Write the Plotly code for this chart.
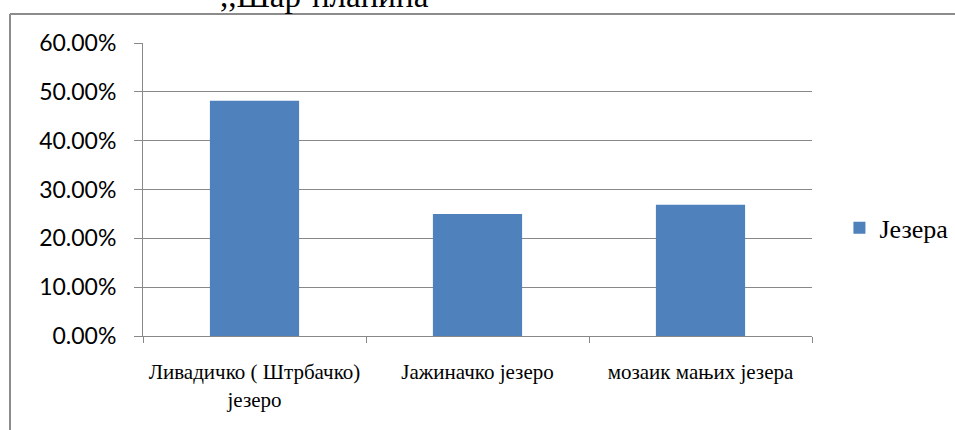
import plotly.graph_objects as go

categories = ["Ливадичко ( Штрбачко)<br>језеро", "Јажиначко језеро", "мозаик мањих језера"]
values = [0.4815, 0.2498, 0.2687]
series_name = "Језера"
title_text = ",,Шар-планина"
y_ticks = [0, 0.1, 0.2, 0.3, 0.4, 0.5, 0.6]

BAR = "#4F81BD"
GRID = "#888888"
SERIF = "Liberation Serif, Times New Roman, serif"
SANS = "Lato, Carlito, Calibri, sans-serif"

fig = go.Figure()
fig.add_trace(go.Bar(x=categories, y=values, name=series_name,
                     marker=dict(color=BAR, line=dict(width=0)),
                     showlegend=True))

fig.update_layout(
    width=955, height=430,
    margin=dict(l=143, r=143, t=43, b=94, autoexpand=False),
    paper_bgcolor="white", plot_bgcolor="white",
    bargap=0.6,
    showlegend=True,
    legend=dict(x=1.041, y=0.369, xanchor="left", yanchor="middle",
                font=dict(family=SERIF, size=26, color="#000"),
                itemwidth=30, bgcolor="rgba(0,0,0,0)"),
    xaxis=dict(type="category", tickson="boundaries", ticks="outside", ticklen=6,
               tickcolor=GRID, showline=True, linecolor=GRID, linewidth=1,
               showgrid=False, ticklabelstandoff=17,
               tickfont=dict(family=SERIF, size=21, color="#000")),
    yaxis=dict(range=[0, 0.6], tickvals=y_ticks, tickformat=".2%",
               ticks="outside", ticklen=8, tickcolor=GRID,
               showline=True, linecolor=GRID, linewidth=1,
               showgrid=True, gridcolor=GRID, gridwidth=1,
               zeroline=False, ticklabelstandoff=13,
               tickfont=dict(family=SANS, size=23, color="#000")),
)

# outer chart-area border (extends just beyond the window)
fig.add_shape(type="line", xref="paper", yref="paper",
              x0=-0.1988, x1=1.25, y0=1.099, y1=1.099,
              line=dict(color="#8C8C8C", width=2), layer="below")
fig.add_shape(type="line", xref="paper", yref="paper",
              x0=-0.1988, x1=-0.1988, y0=-0.35, y1=1.099,
              line=dict(color="#8C8C8C", width=2), layer="below")

fig.add_annotation(text=title_text, xref="paper", yref="paper",
                   x=0.272, y=1.091, xanchor="center", yanchor="bottom",
                   showarrow=False, font=dict(family=SERIF, size=33, color="#000"))

fig.write_html("out.html", config={"displayModeBar": False},
               post_script="document.body.style.margin='0';document.body.style.overflow='hidden';")
